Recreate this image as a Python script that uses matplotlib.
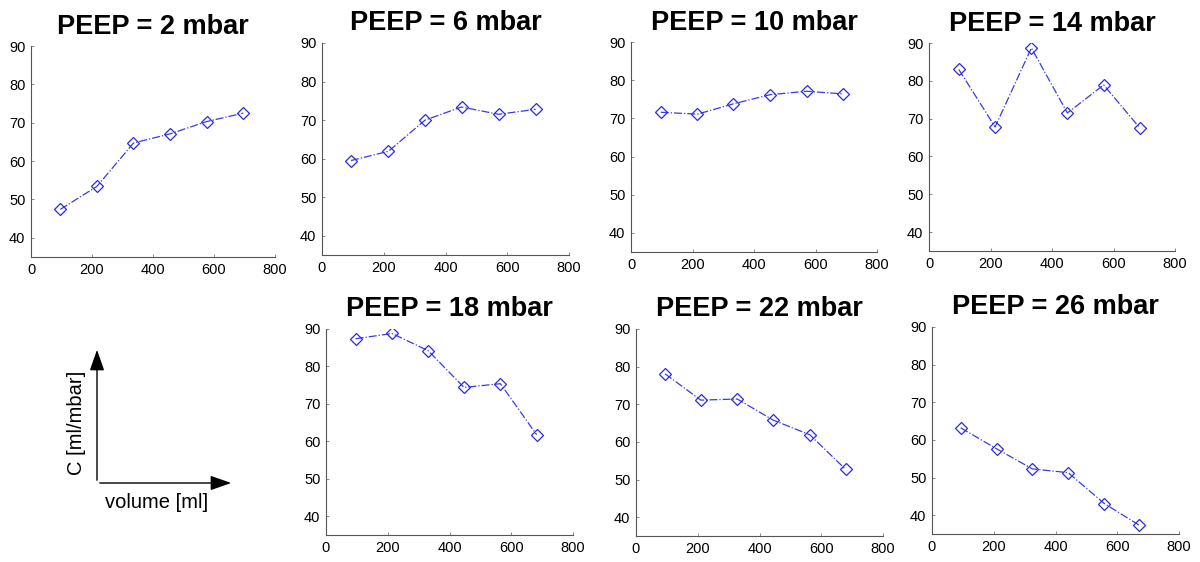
import numpy as np
import matplotlib
matplotlib.use("Agg")
import matplotlib.pyplot as plt

plt.rcParams['font.family'] = ['Liberation Sans', 'DejaVu Sans']

# PEEP levels and measured compliance per volume step
peep = [2, 6, 10, 14, 18, 22, 26]
vol = [
    [96, 216, 336, 456, 576, 696],
    [94, 215, 334, 452, 572, 692],
    [97, 216, 333, 452, 571, 690],
    [97, 215, 333, 450, 568, 686],
    [96, 214, 331, 447, 565, 682],
    [94, 210, 328, 444, 563, 679],
    [93, 210, 325, 441, 558, 672],
]
comp = [
    [47.4, 53.4, 64.7, 67.1, 70.3, 72.5],
    [59.5, 61.9, 70.0, 73.4, 71.5, 72.8],
    [71.6, 71.1, 73.8, 76.2, 77.1, 76.4],
    [83.0, 67.8, 88.7, 71.5, 78.9, 67.5],
    [87.4, 88.8, 84.2, 74.4, 75.4, 61.8],
    [78.1, 71.1, 71.4, 65.8, 61.9, 52.7],
    [63.2, 57.6, 52.3, 51.3, 43.1, 37.3],
]
xticks = [0, 200, 400, 600, 800]
yticks = [40, 50, 60, 70, 80, 90]

W, H = 1200, 562
fig = plt.figure(figsize=(W / 100, H / 100), dpi=100)

# axes boxes in pixels: left, top, right, bottom
boxes = [
    (31, 46, 275, 257),
    (322, 43, 569, 255),
    (631, 42, 877, 252),
    (929, 43, 1175, 251),
    (326, 329, 573, 535),
    (636, 329, 883, 536),
    (932, 327, 1179, 534),
]

for i in range(7):
    l, t, r, b = boxes[i]
    ax = fig.add_axes([l / W, 1 - b / H, (r - l) / W, (b - t) / H])
    ax.plot(vol[i], comp[i], linestyle='-.', color='#3a3ae6', lw=0.9,
            marker='D', markersize=6.5, markerfacecolor='none',
            markeredgecolor='#2b2bdd', markeredgewidth=0.9)
    ax.set_xlim(0, 800)
    ax.set_ylim(35, 90)
    ax.set_xticks(xticks)
    ax.set_yticks(yticks)
    ax.spines['top'].set_visible(False)
    ax.spines['right'].set_visible(False)
    for s in ['left', 'bottom']:
        ax.spines[s].set_color('#555555')
        ax.spines[s].set_linewidth(0.8)
    ax.tick_params(direction='in', length=2, width=0.6, color='#777777',
                   labelsize=10.5, pad=4)
    ax.set_title('PEEP = %d mbar' % peep[i], fontsize=19.5, fontweight='bold', pad=9)

# axis legend sketch, bottom left
ox, oy = 97 / W, 1 - 483 / H
style = '-|>,head_length=0.8,head_width=0.28'
fig.add_artist(matplotlib.patches.FancyArrowPatch(
    (ox, oy), (ox, 1 - 347 / H), transform=fig.transFigure,
    arrowstyle=style, mutation_scale=16, lw=1.0, color='black'))
fig.add_artist(matplotlib.patches.FancyArrowPatch(
    (ox, oy), (234 / W, oy), transform=fig.transFigure,
    arrowstyle=style, mutation_scale=16, lw=1.0, color='black'))
fig.text(76 / W, 1 - 423 / H, 'C [ml/mbar]', rotation=90, fontsize=14.5,
         ha='center', va='center')
fig.text(157 / W, 1 - 502 / H, 'volume [ml]', fontsize=14.5,
         ha='center', va='center')

fig.savefig('out.png', dpi=100)
